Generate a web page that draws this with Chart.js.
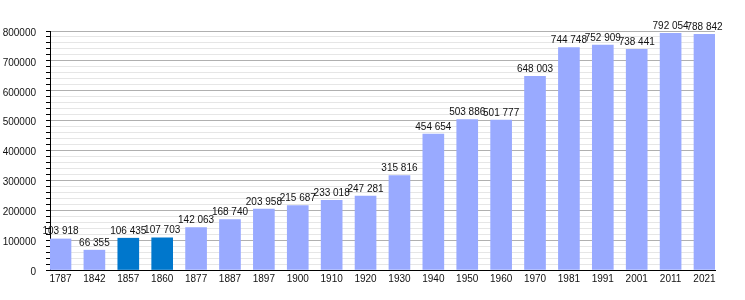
<!DOCTYPE html>
<html>
<head>
<meta charset="utf-8">
<script src="https://cdn.jsdelivr.net/npm/chart.js@4/dist/chart.umd.min.js"></script>
<style>
html,body{margin:0;padding:0;background:#fff;}
canvas{display:block;}
</style>
</head>
<body>
<canvas id="c" width="745" height="300"></canvas>
<script>
const years = ['1787','1842','1857','1860','1877','1887','1897','1900','1910','1920','1930','1940','1950','1960','1970','1981','1991','2001','2011','2021'];
const population = [103918,66355,106435,107703,142063,168740,203958,215687,233018,247281,315816,454654,503886,501777,648003,744748,752909,738441,792054,788842];
const highlighted = ['1857','1860'];
const yTicksMajor = 100000;
const yTicksMinor = 20000;

const LIGHT = '#99aaff';
const DARK = '#0077cc';
const FONT = 'Liberation Sans, Arial, sans-serif';

function fmt(v){ return String(v).replace(/\B(?=(\d{3})+(?!\d))/g, ' '); }

const valueLabels = {
  id: 'valueLabels',
  afterDatasetsDraw(chart){
    const ctx = chart.ctx;
    const meta = chart.getDatasetMeta(0);
    ctx.save();
    ctx.font = '10px ' + FONT;
    ctx.fillStyle = '#111';
    ctx.textAlign = 'center';
    ctx.textBaseline = 'alphabetic';
    meta.data.forEach((bar, i) => {
      ctx.fillText(fmt(population[i]), bar.x, bar.y - 4.5);
    });
    ctx.restore();
  }
};

new Chart(document.getElementById('c'), {
  type: 'bar',
  data: {
    datasets: [{
      data: population.map((v, i) => ({x: i, y: v})),
      backgroundColor: years.map(y => highlighted.includes(y) ? DARK : LIGHT),
      borderWidth: 0,
      barThickness: 21
    }]
  },
  options: {
    responsive: false,
    animation: false,
    events: [],
    layout: {padding: {top: 31, right: 30, left: 0, bottom: 0}},
    plugins: {legend: {display: false}, tooltip: {enabled: false}},
    scales: {
      x: {
        type: 'linear',
        offset: false,
        min: -0.31,
        max: years.length - 1 + 0.31,
        grid: {display: false, drawTicks: false, offset: false},
        border: {display: true, color: '#000', width: 1},
        ticks: {
          stepSize: 1,
          includeBounds: false,
          autoSkip: false,
          maxRotation: 0,
          padding: 3,
          color: '#111',
          font: {family: FONT, size: 10},
          callback: v => Number.isInteger(v) ? years[v] : null
        },
        afterFit: s => { s.height = 30; }
      },
      y: {
        min: 0,
        max: 800000,
        grid: {
          color: c => (c.tick && c.tick.value % yTicksMajor === 0) ? '#b0b0b0' : '#e6e6e6',
          tickColor: '#000',
          tickLength: 4
        },
        border: {display: true, color: '#000', width: 1},
        ticks: {
          stepSize: yTicksMinor,
          autoSkip: false,
          padding: 10,
          labelOffset: 2,
          color: '#111',
          font: {family: FONT, size: 10},
          callback: v => v % yTicksMajor === 0 ? String(v) : ''
        },
        afterFit: s => { s.width = 50; }
      }
    }
  },
  plugins: [valueLabels]
});
</script>
</body>
</html>
